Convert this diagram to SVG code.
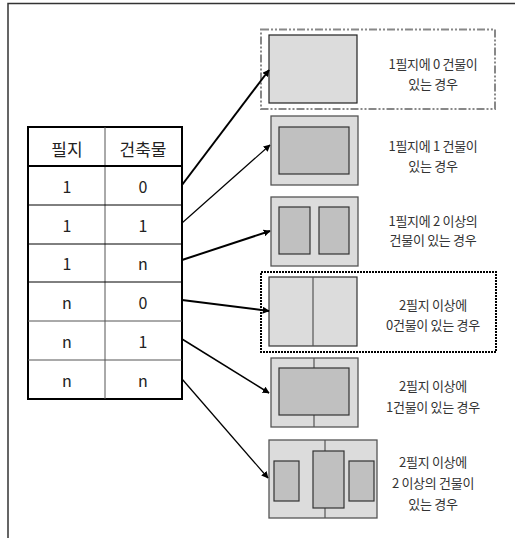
<svg xmlns="http://www.w3.org/2000/svg" width="515" height="538" viewBox="0 0 515 538">
<defs>
<marker id="ah" viewBox="0 0 10 10" refX="9" refY="5" markerWidth="7" markerHeight="7" markerUnits="userSpaceOnUse" orient="auto">
<path d="M0,0 L10,5 L0,10 z" fill="#000"/>
</marker>
</defs>
<style>
.lbl{font-family:"Noto Sans CJK KR","Noto Sans",sans-serif;font-size:13px;fill:#333;text-anchor:middle;dominant-baseline:central;letter-spacing:-0.3px}
.tb{font-family:"Noto Sans CJK KR","Liberation Sans",sans-serif;font-size:16px;fill:#222;text-anchor:middle;dominant-baseline:central}
.th{font-size:17px}
.lot{fill:#dcdcdc;stroke:#555;stroke-width:1.3}
.bld{fill:#c0c0c0;stroke:#333;stroke-width:1.2}
.div{stroke:#555;stroke-width:1.2}
.conn{stroke:#000;fill:none;marker-end:url(#ah)}
</style>
<rect width="515" height="538" fill="#fff"/>
<path d="M8,538 L8,3.5 L515,3.5" fill="none" stroke="#333" stroke-width="1.5"/>

<g id="table">
<rect x="28" y="127" width="154" height="272" fill="#fff" stroke="#000" stroke-width="2"/>
<line x1="105" y1="127" x2="105" y2="399" stroke="#555" stroke-width="1"/>
<line x1="28" y1="166" x2="182" y2="166" stroke="#000" stroke-width="2"/>
<line x1="28" y1="205" x2="182" y2="205" stroke="#000" stroke-width="1"/>
<line x1="28" y1="244" x2="182" y2="244" stroke="#000" stroke-width="1"/>
<line x1="28" y1="282" x2="182" y2="282" stroke="#000" stroke-width="1"/>
<line x1="28" y1="321" x2="182" y2="321" stroke="#555" stroke-width="1"/>
<line x1="28" y1="360" x2="182" y2="360" stroke="#555" stroke-width="1"/>
<text class="tb th" x="67" y="148">필지</text>
<text class="tb th" x="143" y="148">건축물</text>
<text class="tb" x="67" y="186">1</text><text class="tb" x="143" y="186">0</text>
<text class="tb" x="67" y="225">1</text><text class="tb" x="143" y="225">1</text>
<text class="tb" x="67" y="263">1</text><text class="tb" x="143" y="263">n</text>
<text class="tb" x="67" y="302">n</text><text class="tb" x="143" y="302">0</text>
<text class="tb" x="67" y="341">n</text><text class="tb" x="143" y="341">1</text>
<text class="tb" x="67" y="380">n</text><text class="tb" x="143" y="380">n</text>
</g>

<g id="case1">
<rect x="261" y="29.5" width="234" height="79.5" fill="none" stroke="#888" stroke-width="2" stroke-dasharray="8,2,2,2,2,2"/>
<rect x="269" y="35" width="88" height="68" fill="#dcdcdc" stroke="#222" stroke-width="1.2"/>
<text class="lbl" x="433" y="63">1필지에 0 건물이</text>
<text class="lbl" x="433" y="83">있는 경우</text>
</g>

<g id="case2">
<rect class="lot" x="271" y="116" width="87" height="69"/>
<rect class="bld" x="279" y="127" width="70" height="47"/>
<text class="lbl" x="433" y="145">1필지에 1 건물이</text>
<text class="lbl" x="433" y="165">있는 경우</text>
</g>

<g id="case3">
<rect class="lot" x="271" y="197" width="87" height="69"/>
<rect class="bld" x="279" y="207" width="31" height="47"/>
<rect class="bld" x="319" y="207" width="30" height="47"/>
<text class="lbl" x="433" y="220">1필지에 2 이상의</text>
<text class="lbl" x="433" y="239">건물이 있는 경우</text>
</g>

<g id="case4">
<rect x="261" y="272" width="235" height="80" fill="none" stroke="#000" stroke-width="2" stroke-dasharray="2,1"/>
<rect x="269" y="277" width="88" height="69" fill="#dcdcdc" stroke="#333" stroke-width="1.2"/>
<line class="div" x1="313" y1="277" x2="313" y2="346"/>
<text class="lbl" x="433" y="304">2필지 이상에</text>
<text class="lbl" x="433" y="324">0건물이 있는 경우</text>
</g>

<g id="case5">
<rect class="lot" x="271" y="358" width="87" height="69"/>
<line class="div" x1="314" y1="358" x2="314" y2="427"/>
<rect class="bld" x="279" y="368" width="70" height="47"/>
<text class="lbl" x="433" y="385">2필지 이상에</text>
<text class="lbl" x="433" y="406">1건물이 있는 경우</text>
</g>

<g id="case6">
<rect class="lot" x="269" y="440" width="108" height="78"/>
<line class="div" x1="325" y1="440" x2="325" y2="518"/>
<rect class="bld" x="274" y="461" width="25" height="40" stroke="#555"/>
<rect class="bld" x="313" y="451" width="31" height="57" stroke="#555"/>
<rect class="bld" x="349" y="461" width="25" height="40" stroke="#555"/>
<text class="lbl" x="433" y="461">2필지 이상에</text>
<text class="lbl" x="433" y="482">2 이상의 건물이</text>
<text class="lbl" x="433" y="503">있는 경우</text>
</g>

<g id="connectors">
<line class="conn" x1="182" y1="185" x2="269" y2="70" stroke-width="2"/>
<line class="conn" x1="182" y1="223" x2="270" y2="145" stroke-width="1.2"/>
<line class="conn" x1="182" y1="260" x2="270" y2="231" stroke-width="2"/>
<line class="conn" x1="182" y1="300" x2="269" y2="311" stroke-width="2"/>
<line class="conn" x1="182" y1="339" x2="269" y2="393" stroke-width="1.5"/>
<line class="conn" x1="182" y1="379" x2="268" y2="478" stroke-width="1.3"/>
</g>
</svg>
